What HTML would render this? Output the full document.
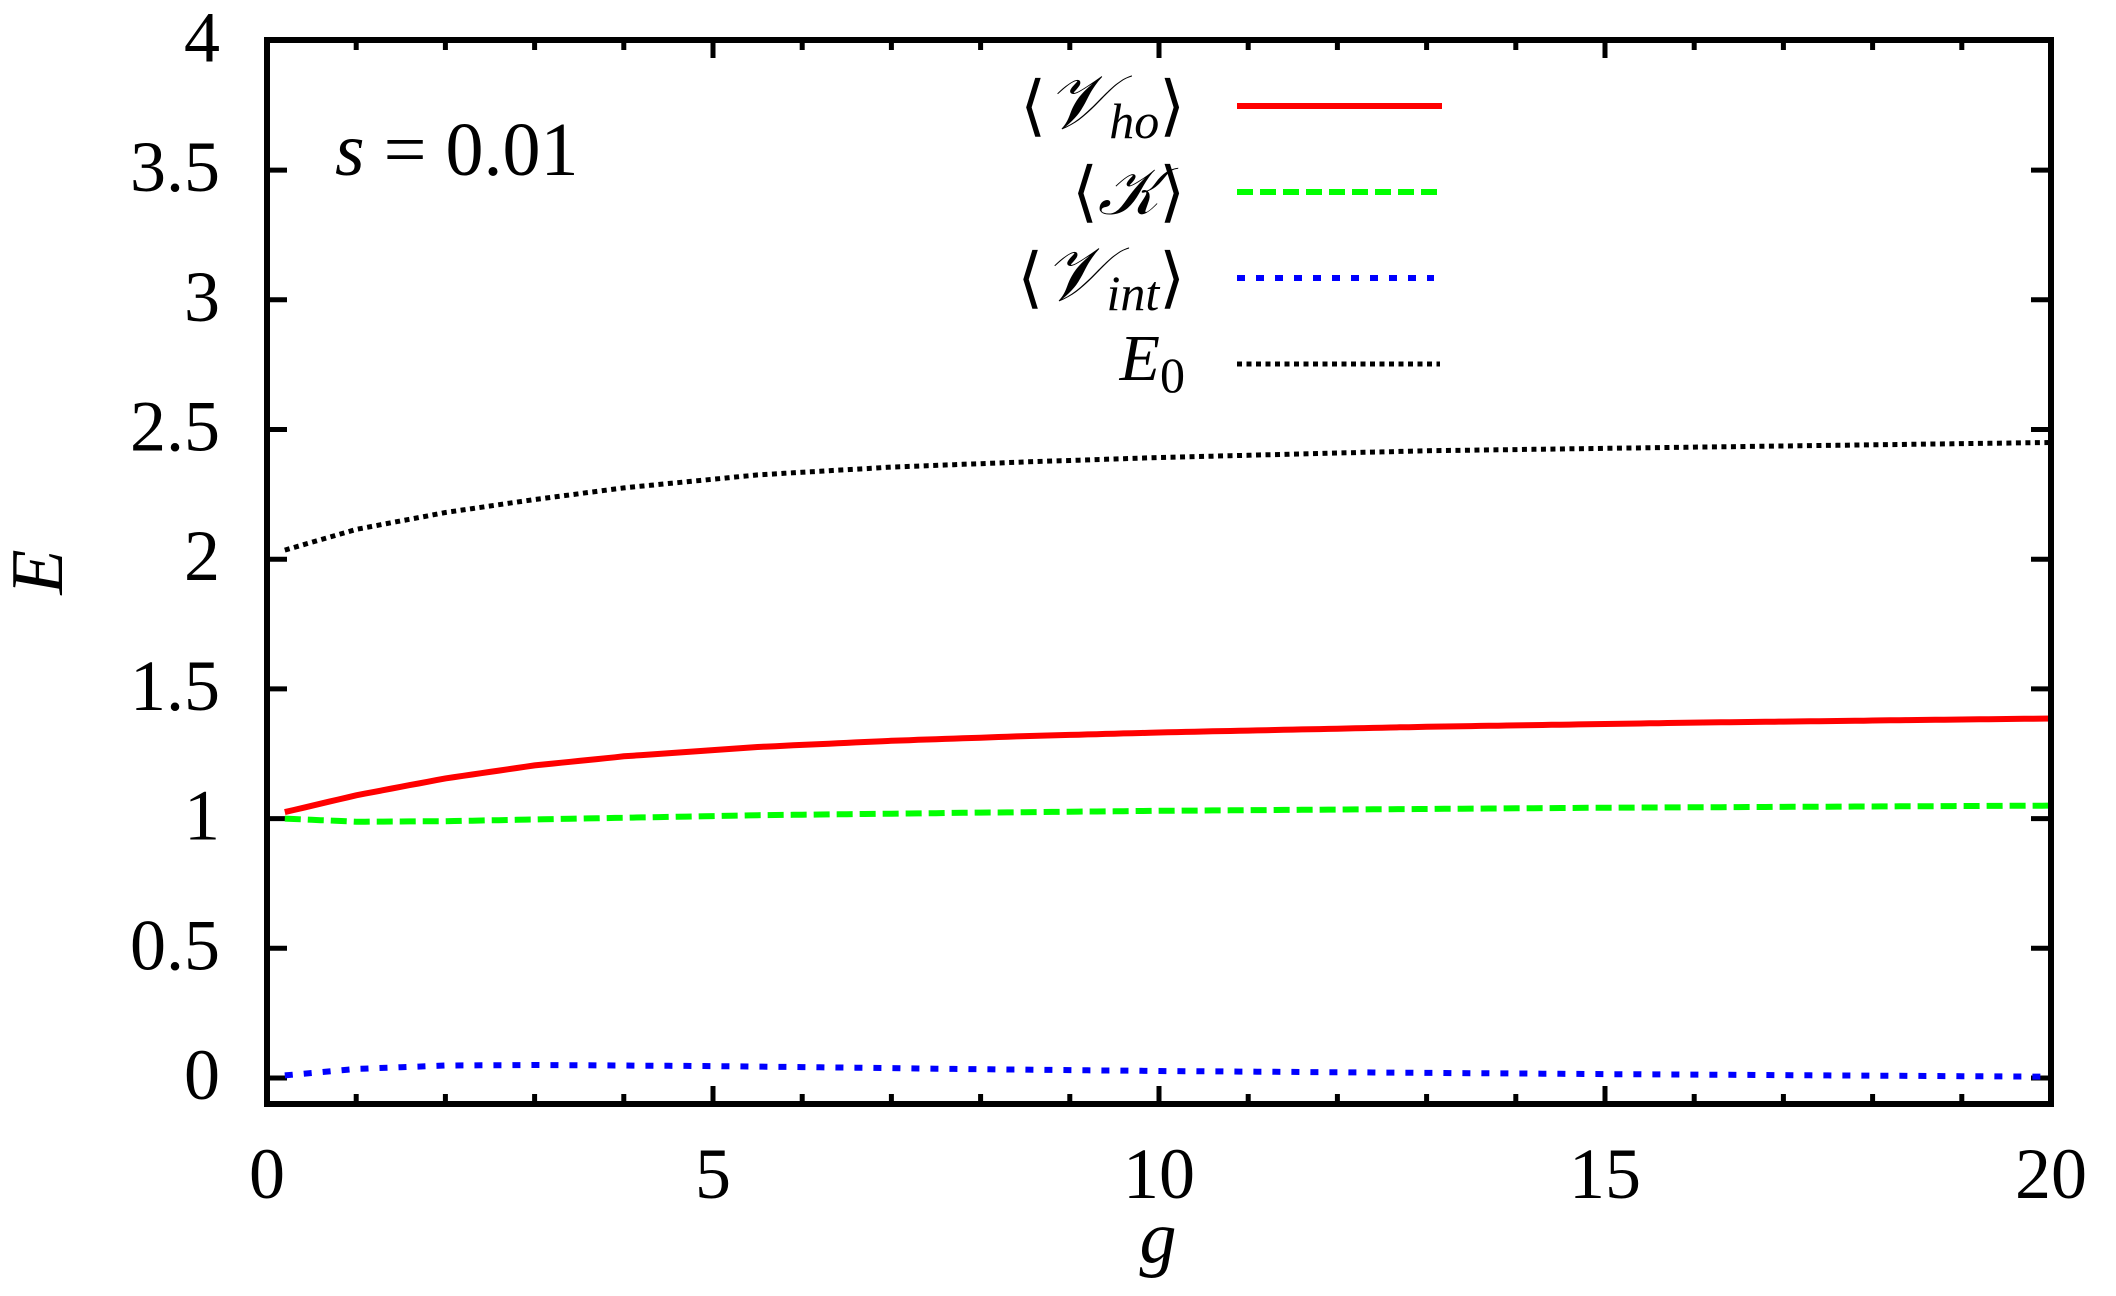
<!DOCTYPE html>
<html><head><meta charset="utf-8"><style>
html,body{margin:0;padding:0;background:#fff;}
svg{display:block;}
text{font-family:"Liberation Serif",serif;fill:#000;}
</style></head><body>
<svg id="s" width="2116" height="1296" viewBox="0 0 2116 1296" xmlns="http://www.w3.org/2000/svg">
<g id="ticks" stroke="#000" stroke-width="5"></g>
<g id="series" fill="none"></g>
<rect x="267" y="40" width="1784" height="1064" fill="none" stroke="#000" stroke-width="6"/>
<g font-size="72" text-anchor="end" id="ylab"></g>
<g font-size="72" text-anchor="middle" id="xlab"></g>
<text x="1158" y="1262" font-size="74" font-style="italic" text-anchor="middle">g</text>
<text transform="translate(62,572) rotate(-90)" font-size="74" font-style="italic" text-anchor="middle">E</text>
<text x="335" y="175" font-size="76"><tspan font-style="italic">s</tspan> = 0.01</text>
<g font-size="66" text-anchor="end">
<text x="1185" y="128">⟨<tspan font-style="italic" font-size="76">𝒱</tspan><tspan font-style="italic" font-size="50" dy="10">ho</tspan><tspan dy="-10">⟩</tspan></text>
<text x="1185" y="214">⟨<tspan font-style="italic">𝒦</tspan>⟩</text>
<text x="1185" y="300">⟨<tspan font-style="italic" font-size="76">𝒱</tspan><tspan font-style="italic" font-size="50" dy="10">int</tspan><tspan dy="-10">⟩</tspan></text>
<text x="1185" y="380"><tspan font-style="italic">E</tspan><tspan font-size="50" dy="12">0</tspan></text>
</g>
<line x1="1237" y1="106" x2="1442" y2="106" stroke="#f00" stroke-width="6"/>
<line x1="1237" y1="192" x2="1442" y2="192" stroke="#0f0" stroke-width="6" stroke-dasharray="16,7"/>
<line x1="1237" y1="278" x2="1434" y2="278" stroke="#00f" stroke-width="6" stroke-dasharray="8,11"/>
<line x1="1237" y1="364" x2="1440" y2="364" stroke="#000" stroke-width="5" stroke-dasharray="5,4.5"/>
</svg>
<script>
var NS="http://www.w3.org/2000/svg";
function X(g){return 267+g*89.2;}
function Y(e){return 1078-e*259.4;}
function el(p,tag,a,txt){var e=document.createElementNS(NS,tag);for(var k in a)e.setAttribute(k,a[k]);if(txt)e.textContent=txt;document.getElementById(p).appendChild(e);}
for(var i=0;i<=20;i++){var L=(i%5==0)?18:10;var x=X(i);
el("ticks","line",{x1:x,y1:1104,x2:x,y2:1104-L});el("ticks","line",{x1:x,y1:40,x2:x,y2:40+L});
if(i%5==0)el("xlab","text",{x:x,y:1198},""+i);}
for(var j=0;j<=8;j++){var v=j*0.5;var y=Y(v);
el("ticks","line",{x1:267,y1:y,x2:287,y2:y});el("ticks","line",{x1:2051,y1:y,x2:2031,y2:y});
el("ylab","text",{x:220,y:y+21},(v%1==0)?(""+v):v.toFixed(1));}
function interp(pts){var d="";for(var g=0.2;g<=20.001;g+=0.1){var k=0;while(k<pts.length-2&&pts[k+1][0]<g)k++;
var a=pts[k],b=pts[k+1];var t=(g-a[0])/(b[0]-a[0]);var e=a[1]+(b[1]-a[1])*t;d+=(d?"L":"M")+X(g).toFixed(1)+","+Y(e).toFixed(1);}return d;}
var red=[[0.2,1.025],[1,1.09],[2,1.155],[3,1.205],[4,1.24],[5.5,1.276],[7,1.3],[8.5,1.318],[10,1.332],[13,1.354],[16,1.37],[20,1.386]];
var grn=[[0.2,1.0],[1,0.988],[2,0.99],[3.5,1.0],[5.5,1.013],[8,1.023],[10,1.03],[15,1.042],[20,1.05]];
var blu=[[0.2,0.01],[1,0.035],[2,0.048],[3,0.05],[5,0.046],[8,0.034],[10,0.027],[15,0.015],[20,0.005]];
var blk=[[0.2,2.035],[1,2.115],[2,2.18],[3,2.23],[4,2.275],[5.5,2.325],[7,2.355],[8.5,2.375],[10,2.392],[13,2.418],[16,2.432],[20,2.45]];
el("series","path",{d:interp(red),stroke:"#f00","stroke-width":6});
el("series","path",{d:interp(grn),stroke:"#0f0","stroke-width":6,"stroke-dasharray":"16,7"});
el("series","path",{d:interp(blu),stroke:"#00f","stroke-width":6,"stroke-dasharray":"8,11"});
el("series","path",{d:interp(blk),stroke:"#000","stroke-width":5,"stroke-dasharray":"5,4.5"});
</script>
</body></html>
